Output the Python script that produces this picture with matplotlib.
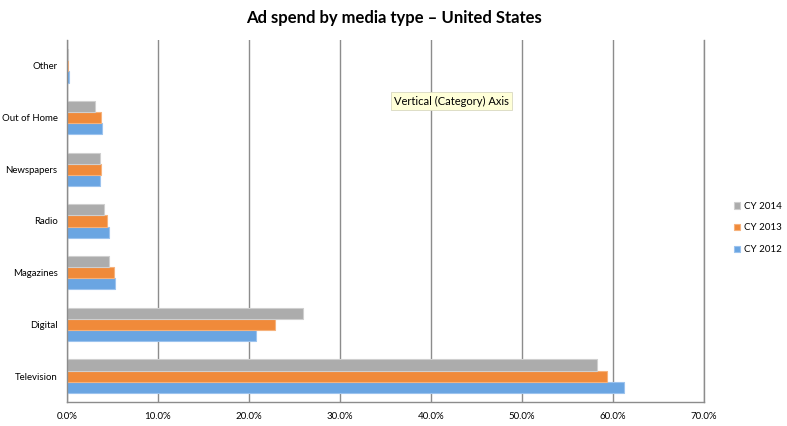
import matplotlib
matplotlib.use("Agg")
import matplotlib.pyplot as plt
import numpy as np

categories = ["Television", "Digital", "Magazines", "Radio", "Newspapers", "Out of Home", "Other"]
cy2012 = [61.2, 20.8, 5.3, 4.7, 3.7, 3.85, 0.25]
cy2013 = [59.3, 22.9, 5.2, 4.4, 3.8, 3.8, 0.15]
cy2014 = [58.2, 25.9, 4.6, 4.1, 3.65, 3.15, 0.15]
series_names = ["CY 2012", "CY 2013", "CY 2014"]
xticks = [0, 10, 20, 30, 40, 50, 60, 70]
title = "Ad spend by media type \u2013 United States"

plt.rcParams['font.family'] = ['Lato', 'DejaVu Sans']

fig = plt.figure(figsize=(7.87, 4.26), dpi=100)
ax = fig.add_axes([66.7/787, 1-402/426, (704-66.7)/787, (402-40)/426])

y = np.arange(len(categories))
h = 0.215
colors = {"CY 2012": "#6aa5e2", "CY 2013": "#f08a3a", "CY 2014": "#acacac"}
edge = {"CY 2012": "#9cc3ee", "CY 2013": "#f6b27c", "CY 2014": "#cfcfcf"}
bars = []
for off, name, vals in [(-h, "CY 2012", cy2012), (0, "CY 2013", cy2013), (h, "CY 2014", cy2014)]:
    b = ax.barh(y + off, vals, height=h, color=colors[name], edgecolor=edge[name],
                linewidth=0.8, label=name, zorder=2)
    bars.append(b)

ax.set_xlim(0, 70)
ax.set_ylim(-0.5, len(categories) - 0.5)
ax.set_xticks(xticks)
ax.set_xticklabels([f"{v:.1f}%" for v in xticks], fontsize=7)
ax.set_yticks(y)
ax.set_yticklabels(categories, fontsize=6.9)
ax.tick_params(axis='x', length=0, pad=7)
ax.tick_params(axis='y', length=0, pad=6.5)
ax.xaxis.grid(True, color="#8c8c8c", linewidth=1.0, zorder=1)
ax.set_axisbelow(True)
ax.spines["top"].set_visible(False)
for s in ["left", "bottom", "right"]:
    ax.spines[s].set_color("#8c8c8c")
    ax.spines[s].set_linewidth(1.0)

fig.text(0.5, 1-18/426, title, ha="center", va="center", fontsize=12, fontweight="bold")

handles = [bars[2], bars[1], bars[0]]
labels = ["CY 2014", "CY 2013", "CY 2012"]
leg = fig.legend(handles, labels, loc="center left", bbox_to_anchor=(729/787, 1-228/426),
                 frameon=False, fontsize=7, handlelength=0.6, handleheight=0.6,
                 handletextpad=0.4, labelspacing=1.3, borderpad=0)

ax.text(394/787, 1-101/426, "Vertical (Category) Axis", transform=fig.transFigure,
        fontsize=8, ha="left", va="center", zorder=5,
        bbox=dict(boxstyle="square,pad=0.3", facecolor="#ffffd8", edgecolor="#d8d8c0", linewidth=0.6))

fig.savefig("out.png", dpi=100)
